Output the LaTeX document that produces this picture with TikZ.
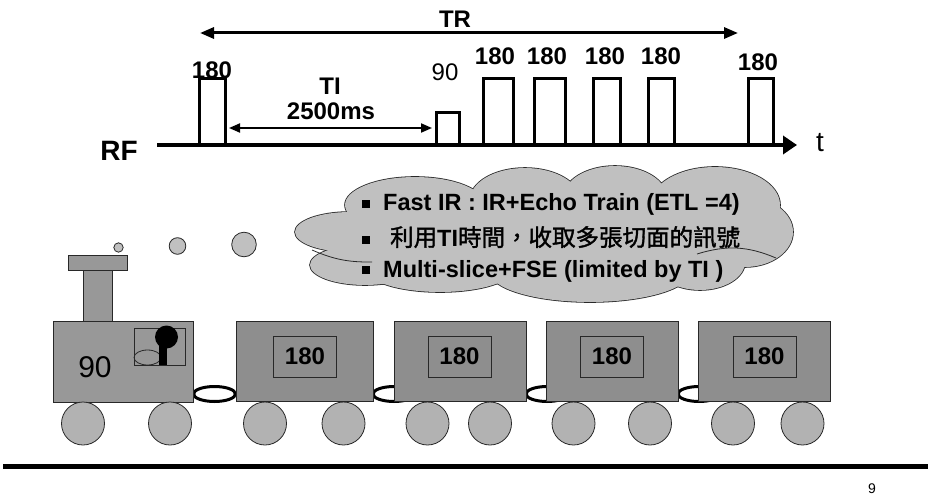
\documentclass[tikz,border=0pt]{standalone}
\usepackage{fontspec}
\setmainfont{Liberation Sans}
\newfontfamily\cjk[AutoFakeBold=1.5]{Noto Sans CJK TC}
\usetikzlibrary{arrows.meta}

\definecolor{cargray}{RGB}{142,142,142}
\definecolor{locogray}{RGB}{152,152,152}
\definecolor{wheelgray}{RGB}{178,178,178}
\definecolor{puffgray}{RGB}{192,192,192}
\definecolor{edgegray}{RGB}{40,40,40}

% lobes of the thought cloud: centre x / centre y / x radius / y radius
\def\cloudlobes{415/205/70/28, 525/200/55/32, 615/198/52/32, 715/205/65/38,
  745/232/48/35, 350/232/55/20, 365/265/55/20, 590/272/100/30,
  440/268/75/24, 700/262/45/28}

\begin{document}
\begin{tikzpicture}[x=1pt,y=-1pt,
  pulse/.style={line width=3pt, line join=miter},
  blabel/.style={font=\fontsize{24}{24}\selectfont\bfseries, inner sep=0pt},
  rlabel/.style={font=\fontsize{24}{24}\selectfont, inner sep=0pt},
  cloudtext/.style={font=\fontsize{23.5}{23.5}\selectfont\bfseries, inner sep=0pt, anchor=base west},
  bullet/.style={fill=black, minimum size=7.5pt, inner sep=0pt},
  body/.style={draw=edgegray, line width=0.8pt},
  wheel/.style={draw=edgegray, fill=wheelgray, line width=0.8pt},
  smoke/.style={draw=edgegray, fill=puffgray, line width=0.8pt},
  coupler/.style={draw=black, fill=white, line width=3pt},
  platebox/.style={draw=edgegray, fill=cargray, line width=0.8pt,
    minimum width=63pt, minimum height=41pt, inner sep=0pt,
    font=\fontsize{24}{24}\selectfont\bfseries},
]
\useasboundingbox (0,0) rectangle (928,500);

% ---------- RF pulse sequence ----------
\coordinate (axisL) at (157,145);
\coordinate (axisR) at (797,145);
\draw[line width=4pt, -{Triangle[length=14pt,width=18pt]}] (axisL) -- (axisR);
\node[font=\fontsize{28}{28}\selectfont\bfseries, inner sep=0pt] (rf) at (119,151) {RF};
\node[font=\fontsize{28}{28}\selectfont, inner sep=0pt] (t) at (820,143) {t};

% pulses
\draw[pulse] (199,145) |- (225,79) -- (225,145);
\draw[pulse] (436,145) |- (459,113) -- (459,145);
\draw[pulse] (483,145) |- (513,79) -- (513,145);
\draw[pulse] (534,145) |- (565,79) -- (565,145);
\draw[pulse] (593,145) |- (620,79) -- (620,145);
\draw[pulse] (648,145) |- (674,79) -- (674,145);
\draw[pulse] (748,145) |- (773,79) -- (773,145);

% pulse labels
\node[blabel] (p1) at (212,70) {180};
\node[rlabel] (p90) at (445,72) {90};
\node[blabel] (p2) at (495,56) {180};
\node[blabel] (p3) at (547,56) {180};
\node[blabel] (p4) at (605,56) {180};
\node[blabel] (p5) at (661,56) {180};
\node[blabel] (p6) at (758,62) {180};

% TR span
\coordinate (trL) at (200,33);
\coordinate (trR) at (738,33);
\draw[line width=3pt, {Triangle[length=14pt,width=11pt]}-{Triangle[length=14pt,width=11pt]}] (trL) -- (trR);
\node[blabel] (tr) at (455,19) {TR};

% TI span
\coordinate (tiL) at (229,128);
\coordinate (tiR) at (432,128);
\draw[line width=2pt, {Triangle[length=11pt,width=9pt]}-{Triangle[length=11pt,width=9pt]}] (tiL) -- (tiR);
\node[blabel] (ti) at (330,86) {TI};
\node[blabel] (tims) at (331,111) {2500ms};

% ---------- cloud: union of lobes ----------
% outline pass (double width, inner half hidden by the fill pass)
\foreach \cx/\cy/\rx/\ry in \cloudlobes
  \draw[edgegray, line width=1.6pt] (\cx,\cy) ellipse [x radius=\rx, y radius=\ry];
% fill pass
\foreach \cx/\cy/\rx/\ry in \cloudlobes
  \fill[puffgray] (\cx,\cy) ellipse [x radius=\rx, y radius=\ry];
\fill[puffgray] (545,236) ellipse [x radius=200, y radius=42];
% inner seams between puffs
\draw[edgegray, line width=0.8pt] (697,254) to[bend left=20] (776,258);
\draw[edgegray, line width=0.8pt] (312,250) to[bend right=12] (372,262);

\node[bullet] (b1) at (366,204) {};
\node[bullet] (b2) at (366,240) {};
\node[bullet] (b3) at (366,270) {};
\node[cloudtext] (l1) at (383,210) {Fast IR : IR+Echo Train (ETL =4)};
\node[cloudtext] (l2) at (390,246) {{\cjk 利用}TI{\cjk 時間，收取多張切面的訊號}};
\node[cloudtext] (l3) at (383,277) {Multi-slice+FSE (limited by TI )};

% ---------- smoke ----------
\draw[smoke] (118.5,247.5) circle [radius=4.7];
\draw[smoke] (177.5,246) circle [radius=8.3];
\draw[smoke] (244,244.5) circle [radius=12.3];

% ---------- couplers (behind the cars) ----------
\draw[coupler] (214.5,394) ellipse [x radius=21, y radius=7.5];
\draw[coupler] (394,394) ellipse [x radius=21, y radius=7.5];
\draw[coupler] (547,394) ellipse [x radius=21, y radius=7.5];
\draw[coupler] (699,394) ellipse [x radius=21, y radius=7.5];

% ---------- locomotive ----------
\draw[body, fill=locogray] (83,270) rectangle (112,321);
\draw[body, fill=locogray] (68,255) rectangle (127,270);
\draw[body, fill=locogray] (53,321) rectangle (193,402);
\draw[body, fill=locogray] (134,328) rectangle (185,365);
\draw[edgegray, line width=0.8pt] (147.5,357.5) ellipse [x radius=13.5, y radius=7.5];
\fill[black] (158.5,337) rectangle (167,365);
\fill[black] (166.5,337) circle [radius=11.5];
\node[font=\fontsize{30}{30}\selectfont, inner sep=0pt] (loco) at (95,367) {90};

% ---------- cars ----------
\draw[body, fill=cargray] (236,321) rectangle (373,401);
\draw[body, fill=cargray] (394,321) rectangle (526,401);
\draw[body, fill=cargray] (546,321) rectangle (678,401);
\draw[body, fill=cargray] (698,321) rectangle (830,401);
\node[platebox] (c1) at (305,356.5) {180};
\node[platebox] (c2) at (459.5,356.5) {180};
\node[platebox] (c3) at (612,356.5) {180};
\node[platebox] (c4) at (764.5,356.5) {180};

% ---------- wheels ----------
\foreach \wx in {83,170,265,343.5,427.5,490,573.5,650,733,802.5}
  \draw[wheel] (\wx,423.5) circle [radius=21.5];

% ---------- footer ----------
\coordinate (ruleL) at (3,466.5);
\coordinate (ruleR) at (928,466.5);
\draw[line width=5pt] (ruleL) -- (ruleR);
\node[font=\fontsize{14}{14}\selectfont, inner sep=0pt] (page) at (872,489) {9};
\end{tikzpicture}
\end{document}
